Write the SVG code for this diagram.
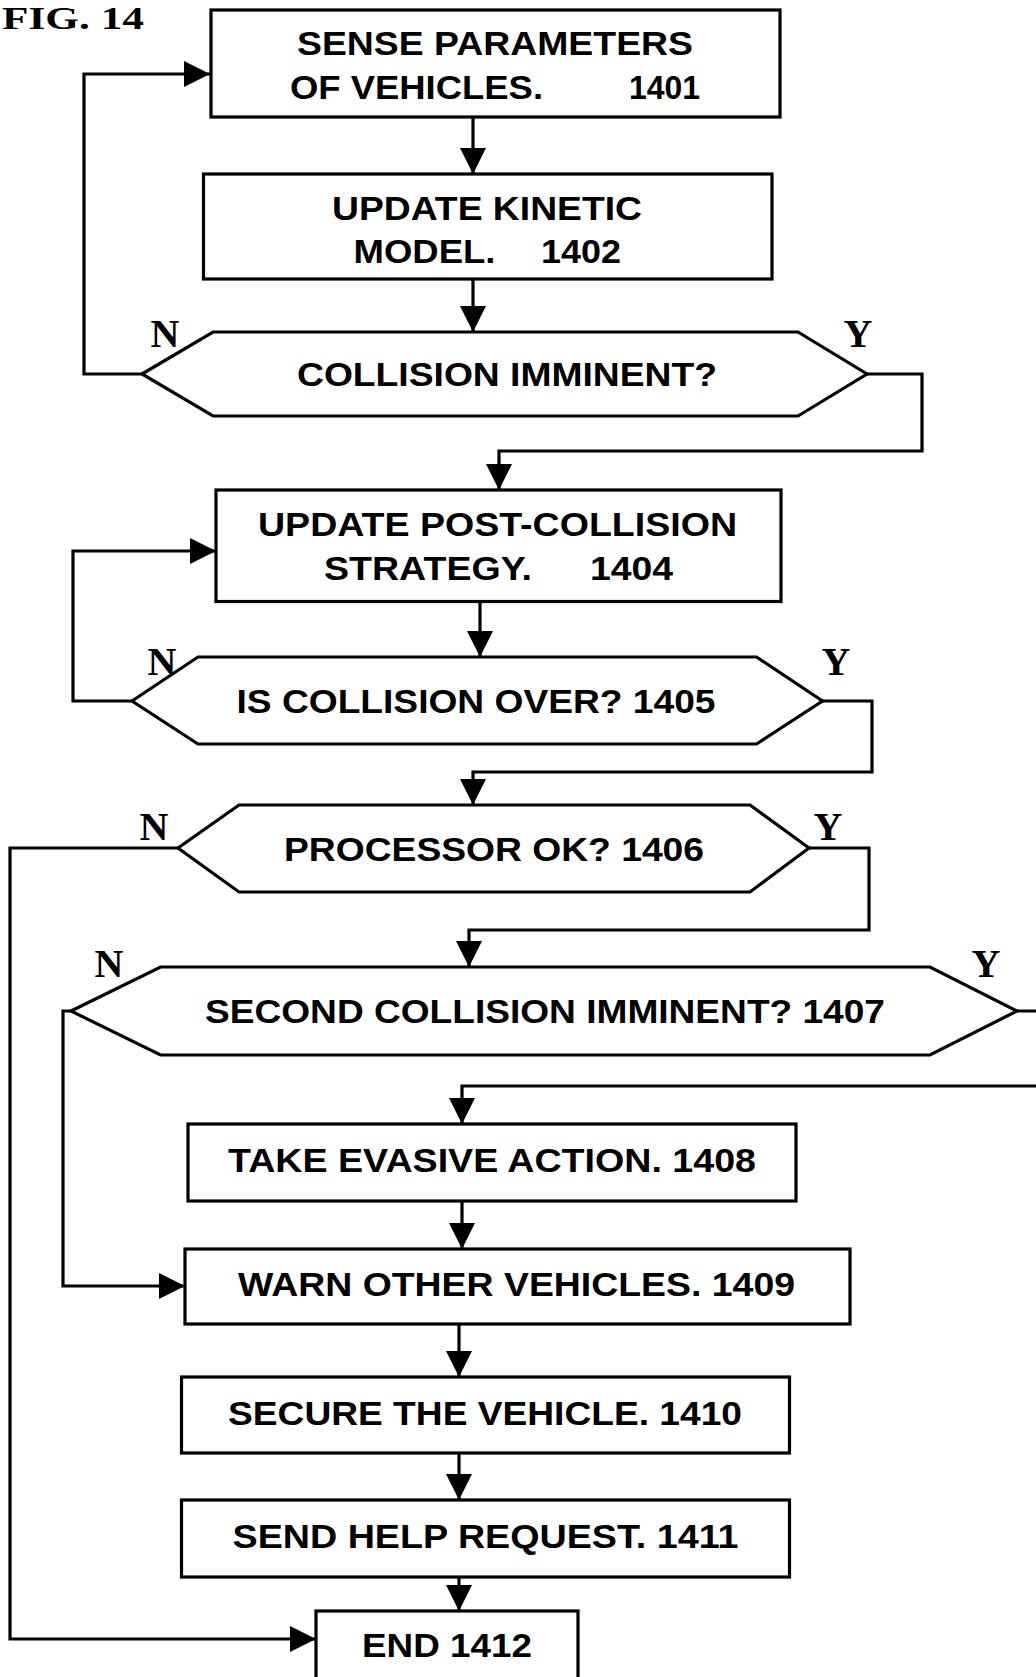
<svg xmlns="http://www.w3.org/2000/svg" width="1036" height="1677" viewBox="0 0 1036 1677">
<style>
.n{fill:#fff;stroke:#000;stroke-width:3.2}
.t{font-family:"Liberation Sans",Arial,sans-serif;font-weight:bold;font-size:34px;fill:#000}
.l{font-family:"Liberation Serif","Times New Roman",serif;font-weight:bold;font-size:40px;fill:#000;text-anchor:middle}
.c{fill:none;stroke:#000;stroke-width:3.2;marker-end:url(#a)}
</style>
<defs>
<marker id="a" markerUnits="userSpaceOnUse" markerWidth="26" markerHeight="26" refX="26" refY="13" orient="auto">
<path d="M0,0 L26,13 L0,26 z" fill="#000"/>
</marker>
</defs>
<rect width="1036" height="1677" fill="#fff"/>
<text x="2" y="29" font-family="Liberation Serif,'Times New Roman',serif" font-weight="bold" font-size="32" textLength="142" lengthAdjust="spacingAndGlyphs">FIG. 14</text>
<g id="connectors">
<path class="c" d="M473,118 V174"/>
<path class="c" d="M473,279 V332"/>
<path class="c" d="M142,374 H84 V74 H210"/>
<path class="c" d="M867,374 H922 V451 H499 V490"/>
<path class="c" d="M480,602 V657"/>
<path class="c" d="M132,701 H73 V551 H216"/>
<path class="c" d="M822,701 H872 V772 H473 V805"/>
<path class="c" d="M178,848 H10 V1639 H316"/>
<path class="c" d="M809,848 H869 V930 H469 V967"/>
<path class="c" d="M71,1011 H63 V1286 H185"/>
<path class="c" d="M1017,1011 H1046 V1086 H462 V1124"/>
<path class="c" d="M462,1201 V1249"/>
<path class="c" d="M459,1324 V1377"/>
<path class="c" d="M459,1453 V1500"/>
<path class="c" d="M459,1577 V1611"/>
</g>
<g id="n1401">
<rect class="n" x="211" y="10" width="569" height="107"/>
<text class="t" x="297" y="55" textLength="396" lengthAdjust="spacingAndGlyphs">SENSE PARAMETERS</text>
<text class="t" x="290" y="99" textLength="253" lengthAdjust="spacingAndGlyphs">OF VEHICLES.</text>
<text class="t" x="629" y="99" textLength="71" lengthAdjust="spacingAndGlyphs">1401</text>
</g>
<g id="n1402">
<rect class="n" x="203.5" y="174" width="568.5" height="105"/>
<text class="t" x="332" y="220" textLength="310" lengthAdjust="spacingAndGlyphs">UPDATE KINETIC</text>
<text class="t" x="353.5" y="263" textLength="142" lengthAdjust="spacingAndGlyphs">MODEL.</text>
<text class="t" x="541" y="263" textLength="80" lengthAdjust="spacingAndGlyphs">1402</text>
</g>
<g id="n1403">
<polygon class="n" points="142,374 213,332 798,332 867,374 798,416 213,416"/>
<text class="t" x="297" y="386" textLength="420" lengthAdjust="spacingAndGlyphs">COLLISION IMMINENT?</text>
<text class="l" x="165" y="347">N</text>
<text class="l" x="858" y="347">Y</text>
</g>
<g id="n1404">
<rect class="n" x="216" y="490" width="565" height="111.5"/>
<text class="t" x="258" y="535.5" textLength="479" lengthAdjust="spacingAndGlyphs">UPDATE POST-COLLISION</text>
<text class="t" x="324" y="579.5" textLength="208" lengthAdjust="spacingAndGlyphs">STRATEGY.</text>
<text class="t" x="590" y="579.5" textLength="83" lengthAdjust="spacingAndGlyphs">1404</text>
</g>
<g id="n1405">
<polygon class="n" points="132,701 198,657 756.5,657 822.5,701 756.5,744 198,744"/>
<text class="t" x="236.5" y="713" textLength="479" lengthAdjust="spacingAndGlyphs">IS COLLISION OVER? 1405</text>
<text class="l" x="162" y="675">N</text>
<text class="l" x="836" y="675">Y</text>
</g>
<g id="n1406">
<polygon class="n" points="178,848 239,805 750,805 809,848 750,892 239,892"/>
<text class="t" x="284" y="861" textLength="420" lengthAdjust="spacingAndGlyphs">PROCESSOR OK? 1406</text>
<text class="l" x="154" y="840">N</text>
<text class="l" x="828" y="840">Y</text>
</g>
<g id="n1407">
<polygon class="n" points="71,1011 160.5,967 930,967 1017,1011 930,1055 160.5,1055"/>
<text class="t" x="205" y="1023" textLength="680" lengthAdjust="spacingAndGlyphs">SECOND COLLISION IMMINENT? 1407</text>
<text class="l" x="109" y="977">N</text>
<text class="l" x="986" y="977">Y</text>
</g>
<g id="n1408">
<rect class="n" x="188" y="1124" width="608" height="77"/>
<text class="t" x="228" y="1172" textLength="528" lengthAdjust="spacingAndGlyphs">TAKE EVASIVE ACTION. 1408</text>
</g>
<g id="n1409">
<rect class="n" x="185" y="1249" width="665" height="75"/>
<text class="t" x="238" y="1296" textLength="557" lengthAdjust="spacingAndGlyphs">WARN OTHER VEHICLES. 1409</text>
</g>
<g id="n1410">
<rect class="n" x="181.5" y="1377" width="608" height="76"/>
<text class="t" x="228" y="1425" textLength="514" lengthAdjust="spacingAndGlyphs">SECURE THE VEHICLE. 1410</text>
</g>
<g id="n1411">
<rect class="n" x="181.5" y="1500" width="608" height="77"/>
<text class="t" x="232.5" y="1548" textLength="506" lengthAdjust="spacingAndGlyphs">SEND HELP REQUEST. 1411</text>
</g>
<g id="n1412">
<rect class="n" x="316" y="1611" width="262" height="90"/>
<text class="t" x="362" y="1657" textLength="170" lengthAdjust="spacingAndGlyphs">END 1412</text>
</g>
</svg>
